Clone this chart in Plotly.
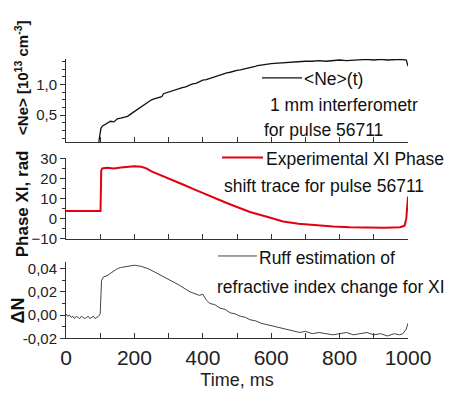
import plotly.graph_objects as go

# ---------------- data ----------------
t_ne = [96, 99, 102, 106, 112, 120, 130, 140, 150, 160,
        170, 180, 190, 200, 210, 220, 230, 240, 250, 260,
        270, 280, 285, 290, 300, 310, 320, 330, 340, 350,
        360, 370, 380, 390, 400, 410, 420, 430, 440, 450,
        460, 470, 480, 490, 500, 510, 520, 530, 540, 550,
        560, 570, 580, 590, 600, 620, 640, 660, 680, 700,
        720, 740, 760, 780, 800, 820, 840, 860, 880, 900,
        920, 940, 960, 980, 995, 1000]
ne = [0.06, 0.18, 0.28, 0.32, 0.34, 0.37, 0.40, 0.39, 0.44, 0.45,
      0.47, 0.48, 0.52, 0.56, 0.59, 0.64, 0.67, 0.71, 0.75, 0.77,
      0.79, 0.80, 0.85, 0.86, 0.88, 0.90, 0.91, 0.94, 0.95, 0.96,
      0.99, 1.01, 1.02, 1.05, 1.07, 1.08, 1.10, 1.12, 1.14, 1.16,
      1.17, 1.19, 1.20, 1.22, 1.23, 1.24, 1.25, 1.26, 1.27, 1.29,
      1.31, 1.32, 1.33, 1.34, 1.34, 1.35, 1.36, 1.37, 1.37, 1.38,
      1.38, 1.39, 1.38, 1.39, 1.40, 1.39, 1.40, 1.40, 1.41, 1.40,
      1.41, 1.40, 1.41, 1.41, 1.40, 1.30]

t_ph = [0, 50, 100, 101, 103, 106, 120, 140, 160, 180,
        200, 220, 235, 250, 275, 300, 320, 342, 380, 410,
        441, 470, 500, 538, 590, 635, 680, 733, 780, 830,
        880, 930, 977, 990, 995, 998, 1000]
phase = [3.8, 3.8, 3.8, 3.8, 24.0, 25.0, 25.3, 25.0, 25.5, 25.8,
         26.0, 25.8, 25.0, 23.5, 21.8, 20.0, 18.6, 17.0, 14.2, 12.0,
         10.0, 7.8, 5.8, 3.3, 0.8, -1.4, -2.5, -3.3, -3.9, -4.3,
         -4.5, -4.5, -4.3, -3.5, 0.0, 6.0, 11.0]

t_dn = [0, 5, 10, 15, 20, 25, 30, 35, 40, 45,
        50, 55, 60, 65, 70, 75, 80, 85, 90, 95,
        100, 102, 104, 110, 120, 130, 140, 150, 160, 180,
        200, 220, 240, 260, 280, 304, 330, 363, 390, 400,
        410, 421, 435, 450, 465, 480, 495, 510, 525, 538,
        555, 570, 585, 596, 610, 625, 640, 660, 684, 700,
        720, 740, 760, 780, 800, 820, 840, 860, 880, 900,
        920, 940, 960, 975, 985, 995, 1000]
dn = [0.001, -0.001, 0.000, -0.002, -0.001, -0.003, -0.001, -0.002, -0.003, -0.001,
      -0.002, -0.003, -0.002, -0.001, -0.003, -0.002, -0.001, -0.003, -0.002, -0.001,
      0.001, 0.015, 0.030, 0.033, 0.034, 0.036, 0.038, 0.040, 0.041, 0.042,
      0.043, 0.042, 0.040, 0.037, 0.034, 0.030, 0.026, 0.020, 0.017, 0.018,
      0.013, 0.010, 0.009, 0.006, 0.005, 0.002, 0.001, -0.001, -0.002, -0.004,
      -0.005, -0.007, -0.008, -0.009, -0.010, -0.011, -0.012, -0.013, -0.015, -0.014,
      -0.016, -0.015, -0.016, -0.017, -0.016, -0.015, -0.017, -0.016, -0.015, -0.017,
      -0.016, -0.018, -0.016, -0.017, -0.016, -0.012, -0.007]

x_ticks = [0, 200, 400, 600, 800, 1000]
ne_ticks = [0.5, 1.0]
ne_ticktext = ["0,5", "1,0"]
ph_ticks = [-10, 0, 10, 20, 30]
dn_ticks = [-0.02, 0.0, 0.02, 0.04]
dn_ticktext = ["-0,02", "0,00", "0,02", "0,04"]

# ---------------- figure ----------------
W, H = 452, 398
L, R = 66, 44
PW = W - L - R


def px(x):
    return (x - L) / PW


def py(y):
    return 1 - y / H


AX = "#333333"
FONT = "Liberation Sans, Arial, sans-serif"

fig = go.Figure()
fig.add_trace(go.Scatter(x=t_ne, y=ne, mode="lines", line=dict(color="#111111", width=1.3),
                         xaxis="x", yaxis="y", showlegend=False))
fig.add_trace(go.Scatter(x=t_ph, y=phase, mode="lines", line=dict(color="#e3000f", width=2),
                         xaxis="x2", yaxis="y2", showlegend=False))
fig.add_trace(go.Scatter(x=t_dn, y=dn, mode="lines", line=dict(color="#444444", width=1),
                         xaxis="x3", yaxis="y3", showlegend=False))

xbase = dict(range=[0, 1000], showgrid=False, zeroline=False, showline=True, linecolor=AX,
             linewidth=1, ticks="inside", ticklen=5, tickcolor=AX, domain=[0, 1])
ybase = dict(showgrid=False, zeroline=False, showline=True, linecolor=AX, linewidth=1,
             ticks="outside", ticklen=5, tickcolor=AX,
             tickfont=dict(family=FONT, size=15, color="#222222"))

fig.update_layout(
    width=W, height=H,
    margin=dict(l=L, r=R, t=0, b=0),
    paper_bgcolor="white", plot_bgcolor="white",
    xaxis=dict(xbase, anchor="y", dtick=100, showticklabels=False),
    xaxis2=dict(xbase, anchor="y2", dtick=100, showticklabels=False),
    xaxis3=dict(xbase, anchor="y3", tickvals=x_ticks,
                tickfont=dict(family=FONT, size=21, color="#222222"),
                minor=dict(dtick=100, ticks="inside", ticklen=5, tickcolor=AX),
                title=dict(text="Time, ms", font=dict(family=FONT, size=18, color="#222222"),
                           standoff=5)),
    yaxis=dict(ybase, domain=[py(139), py(52)], range=[0.06, 1.42],
               tickvals=ne_ticks, ticktext=ne_ticktext,
               minor=dict(dtick=0.125, tick0=0, ticks="outside", ticklen=3, tickcolor=AX)),
    yaxis2=dict(ybase, domain=[py(240), py(156)], range=[-10, 30], tickvals=ph_ticks,
                minor=dict(dtick=5, ticks="outside", ticklen=3, tickcolor=AX)),
    yaxis3=dict(ybase, domain=[py(344), py(264)], range=[-0.02, 0.046],
                tickvals=dn_ticks, ticktext=dn_ticktext,
                minor=dict(dtick=0.01, ticks="outside", ticklen=3, tickcolor=AX)),
)

tf = dict(family=FONT, size=17.5, color="#111111")
yt = dict(family=FONT, size=17, color="#111111")
ann = []
# y axis titles
ann.append(dict(text="<b>&lt;Ne&gt; [10<sup>13</sup> cm<sup>-3</sup>]</b>", x=px(22), y=py(72),
                textangle=-90, font=dict(family=FONT, size=15, color="#111111")))
ann.append(dict(text="<b>Phase XI, rad</b>", x=px(22), y=py(204), textangle=-90, font=yt))
ann.append(dict(text="<b>ΔN</b>", x=px(18), y=py(315), textangle=-90,
                font=dict(family=FONT, size=18, color="#111111")))
# legend texts
ann.append(dict(text="&lt;Ne&gt;(t)", x=px(302), y=py(73), xanchor="left", font=tf))
ann.append(dict(text="1 mm interferometr", x=px(268), y=py(100), xanchor="left", font=tf))
ann.append(dict(text="for pulse 56711", x=px(262), y=py(126), xanchor="left", font=tf))
ann.append(dict(text="Experimental XI Phase", x=px(264), y=py(157), xanchor="left", font=tf))
ann.append(dict(text="shift trace for pulse 56711", x=px(222), y=py(185), xanchor="left", font=tf))
ann.append(dict(text="Ruff estimation of", x=px(257), y=py(260), xanchor="left", font=tf))
ann.append(dict(text="refractive index change for XI", x=px(215), y=py(290), xanchor="left", font=tf))
for a in ann:
    a.setdefault("xanchor", "center")
    a.update(xref="paper", yref="paper", yanchor="middle", showarrow=False)
fig.update_layout(annotations=ann)

# legend line samples
shapes = [
    dict(x0=px(262), x1=px(302), y0=py(72), y1=py(72), line=dict(color="#111111", width=1.3)),
    dict(x0=px(222), x1=px(263), y0=py(155), y1=py(155), line=dict(color="#e3000f", width=2)),
    dict(x0=px(218), x1=px(257), y0=py(258), y1=py(258), line=dict(color="#444444", width=1)),
]
for s in shapes:
    s.update(type="line", xref="paper", yref="paper")
fig.update_layout(shapes=shapes)

fig.write_html("out.html")
